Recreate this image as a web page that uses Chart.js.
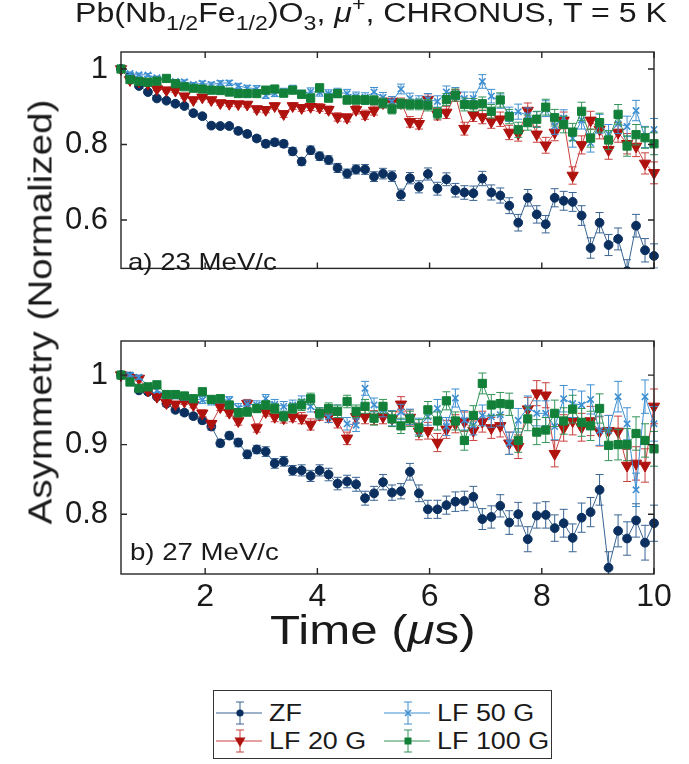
<!DOCTYPE html>
<html><head><meta charset="utf-8">
<script src="https://cdn.jsdelivr.net/npm/chart.js@4.4.0/dist/chart.umd.min.js"></script>
<style>
html,body{margin:0;padding:0;background:#fff;}
#wrap{position:relative;width:689px;height:764px;overflow:hidden;font-family:"Liberation Sans",Arial,Helvetica,sans-serif;color:#1a1a1a;}
canvas{position:absolute;left:0;}
#c1{top:0;} #c2{top:300px;}
.t{position:absolute;white-space:nowrap;line-height:1;transform-origin:0 0;}
.t sub{font-size:0.72em;vertical-align:baseline;position:relative;top:0.42em;}
.t sup{font-size:0.72em;vertical-align:baseline;position:relative;top:-0.55em;}
#title{left:75px;top:0px;font-size:27px;transform:scaleX(1.19);}
#la{left:128px;top:250px;font-size:24px;transform:scaleX(1.15);}
#lb{left:130px;top:540px;font-size:24px;transform:scaleX(1.15);}
#xtitle{left:270px;top:610px;font-size:40px;transform:scaleX(1.23);}
#ytitle{position:absolute;left:40px;top:312px;font-size:33px;line-height:1;white-space:nowrap;transform:translate(-50%,-50%) rotate(-90deg) scaleX(1.17);}
#legend{position:absolute;left:213px;top:690px;width:337px;height:67px;border:1.3px solid #333;}
#legend .it{position:absolute;height:28px;}
#legend svg{position:absolute;left:0;top:0;}
#legend .lt{position:absolute;top:3px;font-size:23px;line-height:1;white-space:nowrap;transform-origin:0 0;transform:scaleX(1.17);}
</style>
</head><body>
<div id="wrap">
  <canvas id="c1" width="689" height="300"></canvas>
  <canvas id="c2" width="689" height="312"></canvas>
  <div id="title" class="t">Pb(Nb<sub>1/2</sub>Fe<sub>1/2</sub>)O<sub>3</sub>, <i>μ</i><sup>+</sup>, CHRONUS, T = 5 K</div>
  <div id="la" class="t">a) 23 MeV/c</div>
  <div id="lb" class="t">b) 27 MeV/c</div>
  <div id="xtitle" class="t">Time (<i>μ</i>s)</div>
  <div id="ytitle">Asymmetry (Normalized)</div>
  <div id="legend"></div>
</div>
<script>
// ---------- DATA ----------
const times = [0.50,0.66,0.82,0.98,1.14,1.31,1.47,1.63,1.79,1.95,2.11,2.27,2.43,2.59,2.75,2.92,3.08,3.24,3.40,3.56,
  3.72,3.88,4.04,4.20,4.36,4.53,4.69,4.85,5.01,5.17,5.33,5.49,5.65,5.81,5.97,6.14,6.30,6.46,6.62,6.78,
  6.94,7.10,7.26,7.42,7.58,7.75,7.91,8.07,8.23,8.39,8.55,8.71,8.87,9.03,9.19,9.36,9.52,9.68,9.84,10.00];
const seriesNames = ["ZF","LF 20 G","LF 50 G","LF 100 G"];
const panelLabels = ["a) 23 MeV/c","b) 27 MeV/c"];
const xTicks = [2,4,6,8,10];
const yTicksA = [0.6,0.8,1];
const yTicksB = [0.8,0.9,1];

// panel a) 23 MeV/c
const zfA = [1.000,0.980,0.955,0.939,0.922,0.916,0.908,0.902,0.883,0.875,0.850,0.849,0.849,0.836,0.828,0.816,0.802,0.806,0.802,0.782,
  0.755,0.785,0.769,0.759,0.738,0.723,0.734,0.734,0.715,0.723,0.716,0.667,0.711,0.688,0.722,0.683,0.708,0.679,0.673,0.671,
  0.710,0.673,0.665,0.638,0.593,0.659,0.615,0.589,0.659,0.651,0.648,0.612,0.526,0.593,0.534,0.550,0.465,0.585,0.520,0.505];
const lf20A = [1.000,0.971,0.967,0.961,0.947,0.944,0.943,0.928,0.918,0.925,0.918,0.910,0.908,0.907,0.906,0.894,0.892,0.902,0.881,0.902,
  0.897,0.900,0.898,0.892,0.873,0.871,0.892,0.879,0.890,0.910,0.914,0.910,0.860,0.855,0.919,0.880,0.885,0.930,0.842,0.878,
  0.873,0.861,0.867,0.832,0.829,0.890,0.827,0.798,0.832,0.864,0.718,0.799,0.864,0.840,0.786,0.832,0.802,0.795,0.750,0.725];
const lf50A = [1.000,0.988,0.985,0.984,0.977,0.972,0.967,0.966,0.959,0.962,0.959,0.963,0.963,0.955,0.950,0.948,0.930,0.935,0.940,0.948,
  0.935,0.940,0.938,0.935,0.938,0.935,0.928,0.925,0.939,0.925,0.914,0.947,0.922,0.915,0.920,0.914,0.939,0.935,0.922,0.922,
  0.967,0.928,0.915,0.880,0.887,0.877,0.866,0.895,0.849,0.870,0.816,0.865,0.804,0.855,0.828,0.855,0.848,0.890,0.820,0.840];
const lf100A = [1.000,0.972,0.967,0.965,0.968,0.975,0.961,0.953,0.949,0.947,0.944,0.943,0.939,0.935,0.935,0.935,0.944,0.947,0.936,0.944,
  0.933,0.923,0.950,0.923,0.935,0.918,0.918,0.918,0.917,0.910,0.894,0.908,0.906,0.906,0.904,0.883,0.919,0.931,0.906,0.905,
  0.908,0.888,0.918,0.874,0.839,0.858,0.867,0.899,0.871,0.853,0.833,0.888,0.817,0.858,0.812,0.880,0.796,0.826,0.818,0.802];
const errZfA = [0.003,0.004,0.004,0.005,0.005,0.005,0.006,0.006,0.006,0.006,0.007,0.007,0.007,0.008,0.008,0.008,0.009,0.009,0.009,0.010,
  0.010,0.011,0.011,0.011,0.012,0.012,0.012,0.013,0.013,0.014,0.014,0.015,0.015,0.016,0.016,0.017,0.017,0.018,0.018,0.019,
  0.019,0.020,0.020,0.021,0.022,0.022,0.023,0.023,0.024,0.025,0.025,0.026,0.027,0.027,0.028,0.029,0.030,0.030,0.031,0.032];
const errLfA = [0.003,0.003,0.004,0.004,0.004,0.005,0.005,0.005,0.005,0.006,0.006,0.006,0.007,0.007,0.007,0.008,0.008,0.008,0.009,0.009,
  0.009,0.010,0.010,0.010,0.011,0.011,0.011,0.012,0.012,0.013,0.013,0.013,0.014,0.014,0.015,0.015,0.016,0.016,0.017,0.017,
  0.018,0.018,0.019,0.019,0.020,0.020,0.021,0.021,0.022,0.022,0.023,0.024,0.024,0.025,0.025,0.026,0.027,0.027,0.028,0.029];

// panel b) 27 MeV/c
const zfB = [1.000,0.998,0.978,0.976,0.969,0.959,0.950,0.946,0.941,0.935,0.926,0.902,0.913,0.903,0.886,0.893,0.890,0.873,0.876,0.863,
  0.863,0.855,0.863,0.857,0.844,0.847,0.843,0.823,0.830,0.846,0.831,0.833,0.861,0.830,0.807,0.807,0.813,0.818,0.819,0.825,
  0.793,0.796,0.812,0.788,0.800,0.764,0.798,0.799,0.780,0.787,0.766,0.795,0.803,0.835,0.723,0.776,0.765,0.791,0.759,0.787];
const lf20B = [1.000,0.996,0.995,0.978,0.969,0.960,0.958,0.962,0.957,0.945,0.930,0.954,0.946,0.934,0.959,0.924,0.947,0.940,0.938,0.940,
  0.938,0.929,0.943,0.940,0.933,0.909,0.940,0.940,0.939,0.940,0.937,0.958,0.939,0.919,0.920,0.903,0.922,0.930,0.933,0.920,
  0.933,0.924,0.927,0.902,0.897,0.951,0.974,0.971,0.887,0.924,0.934,0.925,0.934,0.919,0.920,0.919,0.870,0.873,0.870,0.955];
const lf50B = [1.000,1.000,0.997,0.985,0.978,0.972,0.970,0.968,0.966,0.964,0.962,0.965,0.964,0.953,0.958,0.957,0.966,0.958,0.955,0.957,
  0.962,0.955,0.945,0.940,0.948,0.930,0.928,0.981,0.957,0.950,0.938,0.947,0.940,0.926,0.940,0.952,0.926,0.967,0.935,0.928,
  0.942,0.940,0.943,0.902,0.935,0.953,0.945,0.945,0.926,0.966,0.959,0.957,0.965,0.920,0.920,0.969,0.930,0.835,0.969,0.930];
const lf100B = [1.000,0.990,0.981,0.983,0.986,0.972,0.972,0.970,0.966,0.976,0.965,0.966,0.957,0.946,0.947,0.952,0.957,0.952,0.941,0.952,
  0.957,0.966,0.945,0.952,0.948,0.962,0.948,0.955,0.938,0.955,0.937,0.927,0.937,0.924,0.950,0.934,0.963,0.934,0.906,0.942,
  0.988,0.957,0.959,0.958,0.906,0.937,0.918,0.921,0.945,0.934,0.951,0.932,0.927,0.952,0.899,0.900,0.900,0.916,0.906,0.894];
const errZfB = [0.002,0.003,0.003,0.003,0.003,0.004,0.004,0.004,0.004,0.005,0.005,0.005,0.005,0.006,0.006,0.006,0.007,0.007,0.007,0.007,
  0.008,0.008,0.008,0.009,0.009,0.009,0.010,0.010,0.010,0.011,0.011,0.011,0.012,0.012,0.013,0.013,0.013,0.014,0.014,0.015,
  0.015,0.016,0.016,0.017,0.017,0.018,0.018,0.019,0.019,0.020,0.020,0.021,0.021,0.022,0.023,0.023,0.024,0.024,0.025,0.026];
const errLfB = [0.002,0.003,0.003,0.003,0.003,0.004,0.004,0.004,0.004,0.005,0.005,0.005,0.005,0.006,0.006,0.006,0.006,0.007,0.007,0.007,
  0.008,0.008,0.008,0.008,0.009,0.009,0.009,0.010,0.010,0.010,0.011,0.011,0.011,0.012,0.012,0.013,0.013,0.013,0.014,0.014,
  0.015,0.015,0.016,0.016,0.017,0.017,0.018,0.018,0.019,0.019,0.020,0.020,0.021,0.021,0.022,0.022,0.023,0.024,0.024,0.025];

// ---------- STYLE ----------
const FONT = '"Liberation Sans", Arial, Helvetica, sans-serif';
const styles = [
  {line:'#3a6593', mk:'#0b2f5e', ps:'circle', r:4.4, rot:0, bw:1, order:3},
  {line:'#c9413e', mk:'#b0120e', ps:'triangle', r:6.5, rot:180, bw:1, order:2},
  {line:'#3d8fd1', mk:'#3d8fd1', ps:'crossRot', r:4.5, rot:0, bw:1.6, order:1},
  {line:'#33945a', mk:'#13803a', ps:'rect', r:5.8, rot:0, bw:1, order:0}
];

const errPlugin = {
  id:'errbars',
  beforeDatasetDraw(chart, args){
    const ds = chart.data.datasets[args.index];
    if(!ds.err) return;
    const ys = chart.scales.y, ctx = chart.ctx, ca = chart.chartArea;
    ctx.save();
    ctx.beginPath(); ctx.rect(ca.left-8, ca.top-8, ca.right-ca.left+16, ca.bottom-ca.top+8); ctx.clip();
    ctx.strokeStyle = ds.borderColor; ctx.lineWidth = 1;
    ctx.beginPath();
    args.meta.data.forEach((pt,i)=>{
      const v = ds.data[i].y, e = ds.err[i], x = pt.x;
      const y1 = ys.getPixelForValue(v+e), y2 = ys.getPixelForValue(v-e);
      ctx.moveTo(x,y1); ctx.lineTo(x,y2);
      ctx.moveTo(x-4,y1); ctx.lineTo(x+4,y1);
      ctx.moveTo(x-4,y2); ctx.lineTo(x+4,y2);
    });
    ctx.stroke();
    ctx.restore();
  }
};
const framePlugin = {
  id:'frame',
  afterDraw(chart){
    const {ctx, chartArea:ca, scales:{x,y}} = chart;
    ctx.save();
    ctx.strokeStyle = '#262626'; ctx.lineWidth = 1.4;
    ctx.strokeRect(ca.left, ca.top, ca.right-ca.left, ca.bottom-ca.top);
    const L = 6;
    ctx.beginPath();
    x.ticks.forEach(t=>{ const p = x.getPixelForValue(t.value);
      ctx.moveTo(p,ca.bottom); ctx.lineTo(p,ca.bottom-L); ctx.moveTo(p,ca.top); ctx.lineTo(p,ca.top+L); });
    y.ticks.forEach(t=>{ const p = y.getPixelForValue(t.value);
      ctx.moveTo(ca.left,p); ctx.lineTo(ca.left+L,p); ctx.moveTo(ca.right,p); ctx.lineTo(ca.right-L,p); });
    ctx.stroke();
    ctx.restore();
  }
};

function buildDatasets(vals, errs){
  return vals.map((v,k)=>{
    const s = styles[k];
    return {
      label: seriesNames[k],
      data: times.map((t,i)=>({x:t, y:v[i]})),
      err: errs[k],
      borderColor: s.line, borderWidth: 1,
      pointStyle: s.ps, pointRadius: s.r, pointRotation: s.rot,
      pointBackgroundColor: s.mk, pointBorderColor: s.mk, pointBorderWidth: s.bw,
      tension: 0, order: s.order, clip: {left:8, right:8, top:8, bottom:0}
    };
  });
}

function makeChart(id, vals, errs, yMin, yMax, yTicks, showX, padTop, xH){
  return new Chart(document.getElementById(id), {
    type: 'line',
    data: { datasets: buildDatasets(vals, errs) },
    options: {
      responsive:false, animation:false, events:[],
      layout:{padding:{left:0, right:35, top:padTop, bottom:0}},
      plugins:{legend:{display:false}, tooltip:{enabled:false}, title:{display:false}},
      scales:{
        x:{type:'linear', min:0.5, max:10,
           afterBuildTicks: s=>{ s.ticks = xTicks.map(v=>({value:v})); },
           afterFit: s=>{ s.height = xH; },
           grid:{display:false, drawTicks:false}, border:{display:false},
           ticks:{display:showX, autoSkip:false, maxRotation:0, padding:4, color:'#1a1a1a',
                  font:{family:FONT, size:32}, callback: v=>String(v)}},
        y:{type:'linear', min:yMin, max:yMax,
           afterBuildTicks: s=>{ s.ticks = yTicks.map(v=>({value:v})); },
           afterFit: s=>{ s.width = 121; },
           grid:{display:false, drawTicks:false}, border:{display:false},
           ticks:{autoSkip:false, padding:13, color:'#1a1a1a', font:{family:FONT, size:31},
                  callback: v=>String(v)}}
      }
    },
    plugins:[errPlugin, framePlugin]
  });
}

makeChart('c1', [zfA, lf20A, lf50A, lf100A], [errZfA, errLfA, errLfA, errLfA], 0.472, 1.045, yTicksA, false, 52, 15);
makeChart('c2', [zfB, lf20B, lf50B, lf100B], [errZfB, errLfB, errLfB, errLfB], 0.714, 1.049, yTicksB, true, 41, 38);

// ---------- LEGEND ----------
(function(){
  const lg = document.getElementById('legend');
  const pos = [[2,8],[2,36],[170,8],[170,36]]; // ZF, LF20 (col1), LF50, LF100 (col2)
  seriesNames.forEach((name,k)=>{
    const s = styles[k];
    const it = document.createElement('div'); it.className='it';
    it.style.left = pos[k][0]+'px'; it.style.top = pos[k][1]+'px';
    let mk = '';
    const cx = 24, cy = 14;
    if (s.ps==='circle') mk = `<circle cx="${cx}" cy="${cy}" r="3.6" fill="${s.mk}"/>`;
    else if (s.ps==='triangle') mk = `<polygon points="${cx-5.5},${cy-3.5} ${cx+5.5},${cy-3.5} ${cx},${cy+6}" fill="${s.mk}"/>`;
    else if (s.ps==='crossRot') mk = `<path d="M${cx-3} ${cy-3}L${cx+3} ${cy+3}M${cx-3} ${cy+3}L${cx+3} ${cy-3}" stroke="${s.mk}" stroke-width="1.5"/>`;
    else mk = `<rect x="${cx-3.5}" y="${cy-3.5}" width="7" height="7" fill="${s.mk}"/>`;
    it.innerHTML = `<svg width="48" height="28"><path d="M0 ${cy}H46M${cx} 3V25M${cx-4} 3H${cx+4}M${cx-4} 25H${cx+4}" stroke="${s.line}" stroke-width="1" fill="none"/>${mk}</svg><span class="lt" style="left:53px">${name}</span>`;
    lg.appendChild(it);
  });
})();
document.getElementById('la').textContent = panelLabels[0];
document.getElementById('lb').textContent = panelLabels[1];
</script>
</body></html>
